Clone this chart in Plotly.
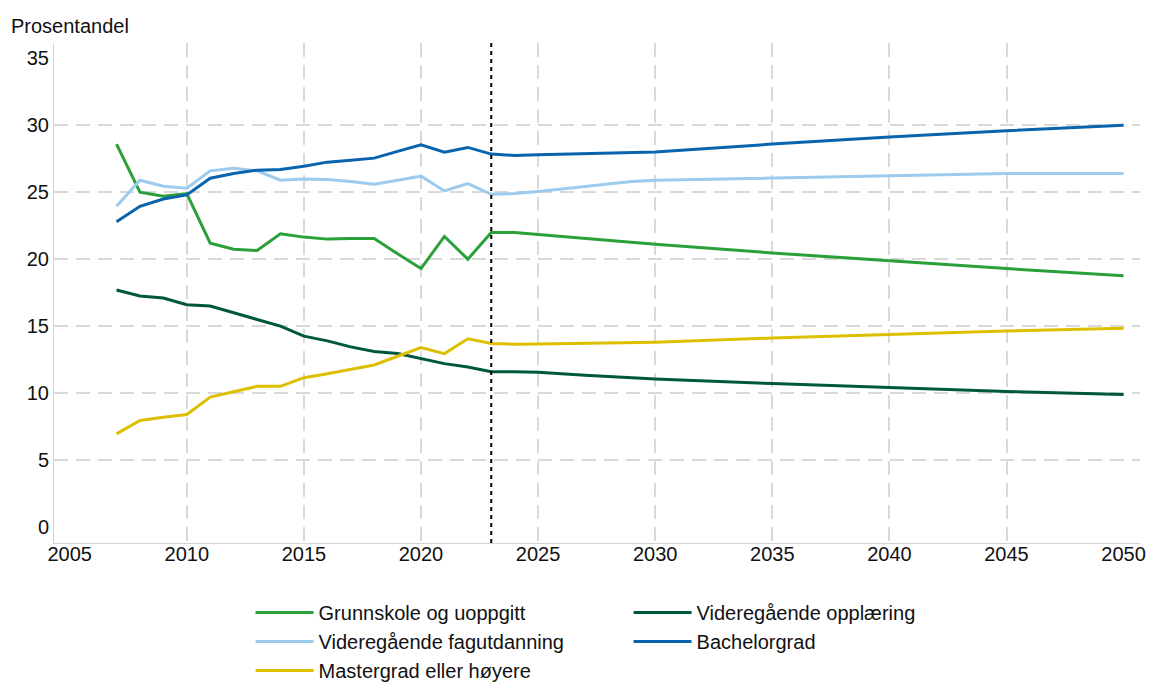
import plotly.graph_objects as go

years = [2007, 2008, 2009, 2010, 2011, 2012, 2013, 2014, 2015, 2016, 2017, 2018,
         2019, 2020, 2021, 2022, 2023, 2024, 2025, 2027, 2029, 2030, 2035, 2040,
         2045, 2050]

grunnskole = [28.6, 25.0, 24.7, 24.9, 21.2, 20.75, 20.65, 21.9, 21.65, 21.5, 21.55,
              21.55, 20.4, 19.3, 21.7, 20.0, 22.0, 22.0, 21.85, 21.55, 21.3, 21.12,
              20.47, 19.87, 19.3, 18.76]
vg_opplaering = [17.7, 17.25, 17.1, 16.6, 16.5, 16.0, 15.55, 15.0, 14.25, 13.9, 13.45,
                 13.1, 12.95, 12.55, 12.2, 11.95, 11.6, 11.6, 11.55, 11.33, 11.15,
                 11.06, 10.71, 10.39, 10.12, 9.9]
fagutdanning = [23.95, 25.9, 25.45, 25.3, 26.6, 26.8, 26.6, 25.9, 26.0, 25.95, 25.8,
                25.6, 25.9, 26.2, 25.1, 25.65, 24.85, 24.9, 25.05, 25.45, 25.8, 25.9,
                26.05, 26.25, 26.4, 26.4]
bachelor = [22.8, 23.95, 24.5, 24.8, 26.05, 26.4, 26.65, 26.7, 26.95, 27.25, 27.4,
            27.55, 28.05, 28.55, 28.0, 28.35, 27.85, 27.75, 27.8, 27.88, 27.95, 28.0,
            28.6, 29.13, 29.6, 30.0]
master = [6.95, 7.95, 8.2, 8.4, 9.7, 10.1, 10.5, 10.5, 11.15, 11.45, 11.8, 12.1,
          12.75, 13.4, 12.95, 14.05, 13.7, 13.65, 13.67, 13.7, 13.74, 13.8, 14.11,
          14.38, 14.63, 14.85]

series = [
    ("Grunnskole og uoppgitt", grunnskole, "#2aa03a"),
    ("Videregående opplæring", vg_opplaering, "#00573f"),
    ("Videregående fagutdanning", fagutdanning, "#9ccbee"),
    ("Bachelorgrad", bachelor, "#0a64ad"),
    ("Mastergrad eller høyere", master, "#dcc000"),
]

x_ticks = [2005, 2010, 2015, 2020, 2025, 2030, 2035, 2040, 2045, 2050]
x_grid = [2010, 2015, 2020, 2025, 2030, 2035, 2040, 2045]
y_ticks = [0, 5, 10, 15, 20, 25, 30, 35]
y_grid = [5, 10, 15, 20, 25, 30]
forecast_start = 2023

FONT = "Liberation Sans, Arial, sans-serif"
fs = 20

fig = go.Figure()
for name, vals, color in series:
    fig.add_trace(go.Scatter(x=years, y=vals, mode="lines", name=name,
                             line=dict(color=color, width=3)))

fig.add_vline(x=forecast_start, line=dict(color="black", width=2, dash="4px,4px"))

fig.update_layout(
    width=1149, height=682,
    margin=dict(l=54, r=9, t=43, b=139, autoexpand=False),
    paper_bgcolor="white", plot_bgcolor="white",
    font=dict(family=FONT, size=fs, color="#111111"),
    showlegend=True,
    legend=dict(orientation="h", x=0.181, y=-0.1, xanchor="left", yanchor="top",
                entrywidth=305, entrywidthmode="pixels", traceorder="normal",
                font=dict(size=fs), itemwidth=58, tracegroupgap=0),
    xaxis=dict(range=[2004.33, 2050.7], tickvals=x_ticks, showgrid=False,
               showline=True, linecolor="#d3d3d3", linewidth=1, zeroline=False,
               ticks="", tickfont=dict(size=fs), automargin=False,
               ticklabelstandoff=-7,
               minor=dict(tickvals=x_grid, showgrid=True, gridcolor="#d9d9d9",
                          gridwidth=2, griddash="14px,8px", ticks="")),
    yaxis=dict(range=[-1.2, 36.15], tickvals=y_ticks, showgrid=False,
               showline=True, linecolor="#d3d3d3", linewidth=1, zeroline=False,
               ticks="", tickfont=dict(size=fs), automargin=False,
               minor=dict(tickvals=y_grid, showgrid=True, gridcolor="#d9d9d9",
                          gridwidth=2, griddash="14px,8px", ticks="")),
    annotations=[dict(text="Prosentandel", xref="paper", yref="paper",
                      x=-0.0415, y=1.034, xanchor="left", yanchor="middle",
                      showarrow=False, font=dict(size=fs))],
)

fig.write_html("out.html", config={"displayModeBar": False},
               post_script="document.body.style.margin='0';document.body.style.overflow='hidden';")
